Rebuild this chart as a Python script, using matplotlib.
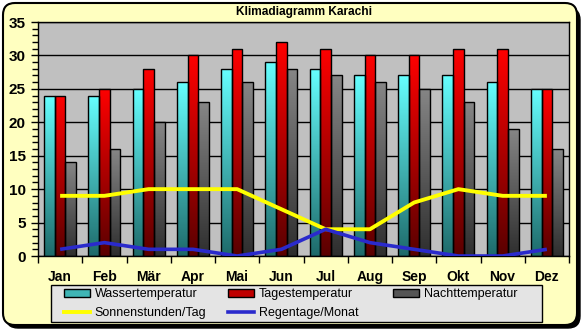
import matplotlib
matplotlib.use('Agg')
import matplotlib.pyplot as plt
import numpy as np
from matplotlib.colors import LinearSegmentedColormap
from matplotlib.patches import FancyBboxPatch, Patch, Rectangle
from matplotlib.lines import Line2D
from matplotlib.transforms import IdentityTransform
from matplotlib.ticker import MultipleLocator

plt.rcParams['font.family'] = ['Liberation Sans', 'DejaVu Sans']

months = ['Jan', 'Feb', 'Mär', 'Apr', 'Mai', 'Jun', 'Jul', 'Aug', 'Sep', 'Okt', 'Nov', 'Dez']
wasser = [24, 24, 25, 26, 28, 29, 28, 27, 27, 27, 26, 25]
tages = [24, 25, 28, 30, 31, 32, 31, 30, 30, 31, 31, 25]
nacht = [14, 16, 20, 23, 26, 28, 27, 26, 25, 23, 19, 16]
sonne = [9, 9, 10, 10, 10, 7, 4, 4, 8, 10, 9, 9]
regen = [1, 2, 1, 1, 0, 1, 4, 2, 1, 0, 0, 1]

W, H = 583, 330
fig = plt.figure(figsize=(W / 100, H / 100), dpi=100)
fig.patch.set_facecolor('white')

# rounded yellow frame with shadow
shadow = FancyBboxPatch((6, 2), 574, 320, boxstyle='round,pad=0,rounding_size=12',
                        transform=IdentityTransform(), facecolor='black', edgecolor='black', zorder=-3)
frame = FancyBboxPatch((3, 5), 574, 322, boxstyle='round,pad=0,rounding_size=12',
                       transform=IdentityTransform(), facecolor='#FFFFC0', edgecolor='black',
                       linewidth=1.5, zorder=-2)
# legend box
legbox = Rectangle((51, 8), 491, 37, transform=IdentityTransform(),
                   facecolor='#E4E4E4', edgecolor='black', linewidth=1, zorder=-1)
fig.patches.extend([shadow, frame, legbox])

ax = fig.add_axes([38 / W, (H - 256) / H, 531 / W, 234 / H])
ax.set_facecolor('#C0C0C0')

x = np.arange(len(months))
bw = 0.242
series = [
    (wasser, -bw, ['#1E6A6A', '#66FFFF']),
    (tages, 0, ['#5A0000', '#FF0000']),
    (nacht, bw, ['#2E2E2E', '#868686']),
]
grad = np.linspace(0, 1, 256).reshape(-1, 1)
for vals, off, cols in series:
    cmap = LinearSegmentedColormap.from_list('g', cols)
    bars = ax.bar(x + off, vals, width=bw, facecolor='none', edgecolor='black',
                  linewidth=1, zorder=3)
    for b in bars:
        x0, w, h = b.get_x(), b.get_width(), b.get_height()
        im = ax.imshow(grad, cmap=cmap, origin='lower', aspect='auto',
                       extent=[x0, x0 + w, 0, h], zorder=2)
        im.set_clip_path(b)

ax.plot(x, sonne, color='#FFFF00', linewidth=2.8, zorder=4, solid_capstyle='butt')
ax.plot(x, regen, color='#2A2ACC', linewidth=2.6, zorder=4, solid_capstyle='butt')

ax.set_xlim(-0.5, 11.5)
ax.set_ylim(0, 35)
ax.yaxis.set_major_locator(MultipleLocator(5))
ax.yaxis.set_minor_locator(MultipleLocator(1))
ax.grid(axis='y', which='major', color='black', linewidth=1, zorder=1)
ax.set_axisbelow(True)

ax.set_xticks(np.arange(-0.5, 12, 1))
ax.set_xticklabels([])
ax.set_xticks(x, minor=True)
ax.set_xticklabels(months, minor=True, fontsize=10, fontweight='bold')
ax.tick_params(axis='x', which='major', length=5, width=1, direction='out')
ax.tick_params(axis='x', which='minor', length=0, pad=10)
ax.tick_params(axis='y', which='major', length=5, width=1, labelsize=11, pad=4)
ax.tick_params(axis='y', which='minor', length=4, width=1)
for lbl in ax.get_yticklabels():
    lbl.set_fontweight('bold')
for s in ax.spines.values():
    s.set_linewidth(1)
    s.set_color('black')

fig.text(303.5 / W, (H - 12) / H, 'Klimadiagramm Karachi', ha='center', va='center',
         fontsize=8.6, fontweight='bold')

columns = [
    (64, [Patch(facecolor='#3FB5B5', edgecolor='black', label='Wassertemperatur'),
          Line2D([], [], color='#FFFF00', linewidth=2.8, label='Sonnenstunden/Tag')]),
    (228, [Patch(facecolor='#C00000', edgecolor='black', label='Tagestemperatur'),
           Line2D([], [], color='#2A2ACC', linewidth=2.6, label='Regentage/Monat')]),
    (393, [Patch(facecolor='#555555', edgecolor='black', label='Nachttemperatur')]),
]
for xpos, hs in columns:
    fig.legend(handles=hs, loc='upper left',
               bbox_to_anchor=(xpos / W, (H - 288.5) / H),
               fontsize=9, frameon=False, handlelength=2.1,
               handleheight=0.55, handletextpad=0.35, labelspacing=0.55,
               borderpad=0, borderaxespad=0)

fig.savefig('out.png', dpi=100)
